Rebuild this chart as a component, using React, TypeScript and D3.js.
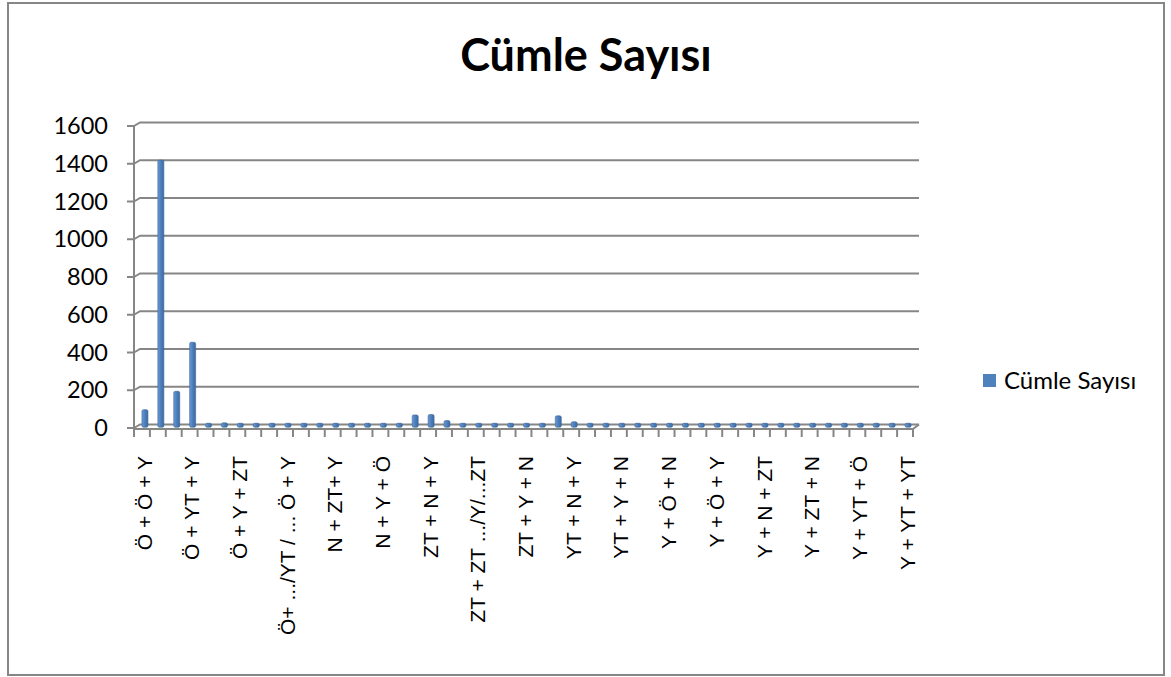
import React from 'react';
import * as d3 from 'd3';

const title = 'Cümle Sayısı';
const seriesName = 'Cümle Sayısı';

// one value per category (49 categories, only every third is labelled)
const values = [
  88, 1410, 185, 445, 3, 18, 5, 3, 3, 3,
  3, 15, 12, 14, 4, 4, 4, 60, 62, 30,
  2, 3, 15, 6, 3, 4, 55, 24, 3, 3,
  3, 3, 3, 3, 9, 3, 3, 3, 3, 3,
  3, 3, 3, 3, 3, 3, 3, 3, 3,
];

const tickLabels = [
  'Ö + Ö + Y', 'Ö + YT + Y', 'Ö + Y + ZT', 'Ö+ .../YT / ... Ö + Y',
  'N + ZT+ Y', 'N + Y + Ö', 'ZT + N + Y', 'ZT + ZT .../Y/...ZT',
  'ZT + Y + N', 'YT + N + Y', 'YT + Y + N', 'Y + Ö + N',
  'Y + Ö + Y', 'Y + N + ZT', 'Y + ZT + N', 'Y + YT + Ö', 'Y + YT + YT',
];

const yTicks = [0, 200, 400, 600, 800, 1000, 1200, 1400, 1600];

const W = 1171;
const H = 677;
const grey = '#868686';
// 3d depth offset of the back wall
const dx = 6;
const dy = -3.5;

const App = () => {
  const x = d3.scaleBand<number>()
    .domain(d3.range(values.length))
    .range([134, 913])
    .padding(0);

  const y = d3.scaleLinear()
    .domain([0, 1600])
    .range([428, 126]);

  const left = 134;
  const right = 913;
  const bw = 6;

  return (
    <svg width={W} height={H} style={{ position: 'absolute', left: 0, top: 0, background: '#fff' }}>
      <defs>
        <linearGradient id="barGrad" x1="0" x2="1" y1="0" y2="0">
          <stop offset="0%" stopColor="#6a9bd8" />
          <stop offset="45%" stopColor="#4f81bd" />
          <stop offset="100%" stopColor="#3b6aa3" />
        </linearGradient>
      </defs>
      <rect x={8} y={3} width={1156} height={672} fill="#fff" stroke={grey} strokeWidth={2} />

      <text x={586} y={71} textAnchor="middle" fontFamily="Lato, 'Open Sans', sans-serif"
        fontWeight="bold" fontSize={45} fill="#000">{title}</text>

      {/* back wall gridlines */}
      {yTicks.map(t => (
        <path key={t} fill="none" stroke={grey} strokeWidth={2}
          d={d3.line()([[left, y(t)], [left + dx, y(t) + dy], [right + dx, y(t) + dy]]) || ''} />
      ))}

      {/* y axis */}
      <line x1={left} x2={left} y1={y(1600)} y2={y(0) + 1} stroke={grey} strokeWidth={2} />
      {yTicks.map(t => (
        <g key={t}>
          <line x1={left - 7} x2={left} y1={y(t)} y2={y(t)} stroke={grey} strokeWidth={2} />
          <text x={108} y={y(t)} dy="0.35em" textAnchor="end" fontFamily="Lato, 'Open Sans', sans-serif"
            fontSize={23.5} fill="#000">{t}</text>
        </g>
      ))}

      {/* bars */}
      {values.map((v, i) => {
        const cx = (x(i) || 0) + x.bandwidth() / 2 + dx / 2;
        const base = y(0) + dy / 2 + 1;
        const top = Math.min(y(v) + dy / 2, base - 4);
        return (
          <rect key={i} x={cx - bw / 2} y={top} width={bw} height={base - top}
            rx={1.5} fill="url(#barGrad)" stroke="#3d6799" strokeWidth={0.6} />
        );
      })}

      {/* x axis */}
      <line x1={left} x2={right} y1={y(0) + 1} y2={y(0) + 1} stroke={grey} strokeWidth={2} />
      <line x1={right} x2={right + dx} y1={y(0) + 1} y2={y(0) + dy} stroke={grey} strokeWidth={2} />
      {d3.range(values.length + 1).map(i => {
        const tx = left + i * x.bandwidth();
        return <line key={i} x1={tx} x2={tx} y1={y(0) + 1} y2={y(0) + 9} stroke={grey} strokeWidth={2} />;
      })}
      {tickLabels.map((lab, k) => {
        const i = k * 3;
        const cx = (x(i) || 0) + x.bandwidth() / 2 + 2;
        return (
          <text key={lab} transform={`translate(${cx},456) rotate(-90)`} dy="0.36em" textAnchor="end"
            fontFamily="'Liberation Sans', Arial, sans-serif" fontSize={21} fill="#000">{lab}</text>
        );
      })}

      {/* legend */}
      <rect x={983} y={374} width={13} height={13} fill="#4f81bd" />
      <text x={1004} y={380.5} dy="0.35em" fontFamily="Lato, 'Open Sans', sans-serif" fontSize={24} fill="#000">
        {seriesName}
      </text>
    </svg>
  );
};

export default App;
